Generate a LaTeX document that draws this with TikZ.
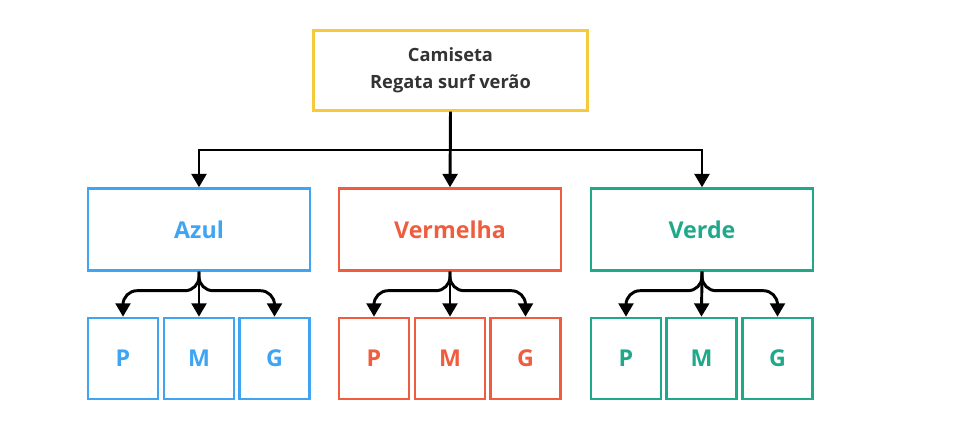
\documentclass[tikz,border=0pt]{standalone}
\usepackage{fontspec}
\setmainfont{Open Sans}
\usepackage{xcolor}
\usepackage{tikz}
\usetikzlibrary{arrows.meta,positioning}

\definecolor{topyellow}{HTML}{F6CA3B}
\definecolor{topgray}{HTML}{333333}
\definecolor{azulc}{HTML}{3FA4F2}
\definecolor{vermc}{HTML}{F05D3E}
\definecolor{verdec}{HTML}{1FA98A}

\begin{document}
\begin{tikzpicture}[x=0.025cm, y=-0.025cm,
        topbox/.style={draw=topyellow, line width=1.7pt, minimum width=6.85cm, minimum height=2cm,
            align=center, text=topgray, font=\fontsize{13}{19.5}\selectfont\bfseries},
        colorbox/.style={draw=#1, line width=1.7pt, minimum width=5.55cm, minimum height=2.05cm,
            text=#1, font=\fontsize{16.5}{19}\selectfont\bfseries},
        sizebox/.style={draw=#1, line width=1.7pt, minimum width=1.75cm, minimum height=2.03cm,
            text=#1, font=\fontsize{16.5}{19}\selectfont\bfseries},
        conn/.style={line width=2.1pt, -{Triangle[width=10.5pt, length=9.5pt]}},
        branch/.style={conn, rounded corners=10pt}]
        \useasboundingbox (0,0) rectangle (954,425);

        % Product box
        \node[topbox] (top) at (450.5,70.5) {Camiseta\\Regata surf verão};

        % Colour boxes
        \node[colorbox=azulc] (azul) at (199,229.5) {Azul};
        \node[colorbox=vermc] (vermelha) at (450,229.5) {Vermelha};
        \node[colorbox=verdec] (verde) at (702,229.5) {Verde};

        % Size boxes
        \node[sizebox=azulc] (azulP) at (123,358.5) {P};
        \node[sizebox=azulc] (azulM) at (199,358.5) {M};
        \node[sizebox=azulc] (azulG) at (274.5,358.5) {G};
        \node[sizebox=vermc] (vermelhaP) at (374,358.5) {P};
        \node[sizebox=vermc] (vermelhaM) at (450,358.5) {M};
        \node[sizebox=vermc] (vermelhaG) at (525.5,358.5) {G};
        \node[sizebox=verdec] (verdeP) at (626,358.5) {P};
        \node[sizebox=verdec] (verdeM) at (701.5,358.5) {M};
        \node[sizebox=verdec] (verdeG) at (777.5,358.5) {G};

        % Product -> colours
        \coordinate (hub) at (450.5,150);
        \draw[conn] (top.south) -- (hub) -| (azul.north);
        \draw[conn] (top.south) -- (vermelha.north);
        \draw[conn] (hub) -| (verde.north);

        % Colours -> sizes
        \draw[branch] (azul.south) -- ++(0,19) -| (azulP.north);
        \draw[conn] (azul.south) -- (azulM.north);
        \draw[branch] (azul.south) -- ++(0,19) -| (azulG.north);
        \draw[branch] (vermelha.south) -- ++(0,19) -| (vermelhaP.north);
        \draw[conn] (vermelha.south) -- (vermelhaM.north);
        \draw[branch] (vermelha.south) -- ++(0,19) -| (vermelhaG.north);
        \draw[branch] (verde.south) -- ++(0,19) -| (verdeP.north);
        \draw[conn] (verde.south) -- (verdeM.north);
        \draw[branch] (verde.south) -- ++(0,19) -| (verdeG.north);
    \end{tikzpicture}
\end{document}
